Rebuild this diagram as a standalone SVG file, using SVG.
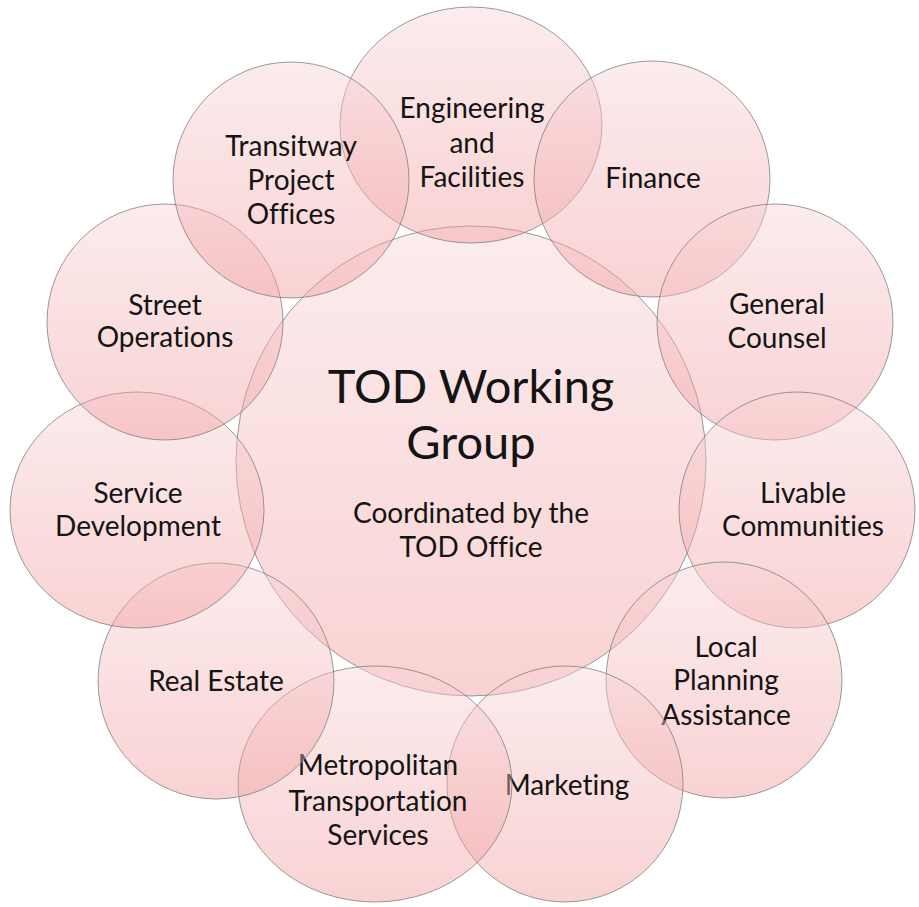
<svg xmlns="http://www.w3.org/2000/svg" width="919" height="907" viewBox="0 0 919 907">
<defs>
<linearGradient id="pink" x1="0" y1="0" x2="0" y2="1">
<stop offset="0" stop-color="#f8d4d6" stop-opacity="0.44"/>
<stop offset="1" stop-color="#f1999b" stop-opacity="0.44"/>
</linearGradient>
</defs>
<style>
.s{fill:url(#pink);stroke:#7a7a7a;stroke-opacity:0.75;stroke-width:1}
.t{font-family:Lato,"Open Sans","Liberation Sans",sans-serif;font-size:28px;fill:#141414;text-anchor:middle;font-variant-ligatures:none;font-feature-settings:"liga" 0,"clig" 0,"dlig" 0}
.big{font-size:47px}
</style>
<rect width="919" height="907" fill="#ffffff"/>
<g id="connectors"/>
<g id="center">
<circle class="s" cx="471" cy="461" r="235"/>
<text class="t big" x="471" y="403">TOD Working</text>
<text class="t big" x="471" y="459">Group</text>
<text class="t" x="471" y="523">Coordinated by the</text>
<text class="t" x="471" y="557">TOD Office</text>
</g>
<g id="engineering">
<ellipse class="s" cx="471" cy="125" rx="131" ry="118"/>
<text class="t" x="472" y="118">Engineering</text>
<text class="t" x="472" y="153">and</text>
<text class="t" x="472" y="187">Facilities</text>
</g>
<g id="finance">
<circle class="s" cx="652" cy="179" r="118"/>
<text class="t" x="653" y="188">Finance</text>
</g>
<g id="general-counsel">
<circle class="s" cx="775" cy="322" r="118"/>
<text class="t" x="777" y="314">General</text>
<text class="t" x="777" y="348">Counsel</text>
</g>
<g id="livable-communities">
<circle class="s" cx="797" cy="510" r="118"/>
<text class="t" x="803" y="503">Livable</text>
<text class="t" x="803" y="536">Communities</text>
</g>
<g id="local-planning">
<circle class="s" cx="724" cy="680" r="118"/>
<text class="t" x="726" y="657">Local</text>
<text class="t" x="726" y="690">Planning</text>
<text class="t" x="726" y="725">Assistance</text>
</g>
<g id="marketing">
<circle class="s" cx="565" cy="784" r="118"/>
<text class="t" x="567" y="795">Marketing</text>
</g>
<g id="metropolitan">
<ellipse class="s" cx="375" cy="784" rx="137" ry="118"/>
<text class="t" x="378" y="775">Metropolitan</text>
<text class="t" x="378" y="811">Transportation</text>
<text class="t" x="378" y="845">Services</text>
</g>
<g id="real-estate">
<circle class="s" cx="216" cy="681" r="118"/>
<text class="t" x="216" y="691">Real Estate</text>
</g>
<g id="service-development">
<ellipse class="s" cx="137" cy="510" rx="127" ry="118"/>
<text class="t" x="138" y="503">Service</text>
<text class="t" x="138" y="536">Development</text>
</g>
<g id="street-operations">
<circle class="s" cx="165" cy="322" r="118"/>
<text class="t" x="165" y="315">Street</text>
<text class="t" x="165" y="347">Operations</text>
</g>
<g id="transitway">
<circle class="s" cx="291" cy="180" r="118"/>
<text class="t" x="291" y="156">Transitway</text>
<text class="t" x="291" y="190">Project</text>
<text class="t" x="291" y="224">Offices</text>
</g>
</svg>
